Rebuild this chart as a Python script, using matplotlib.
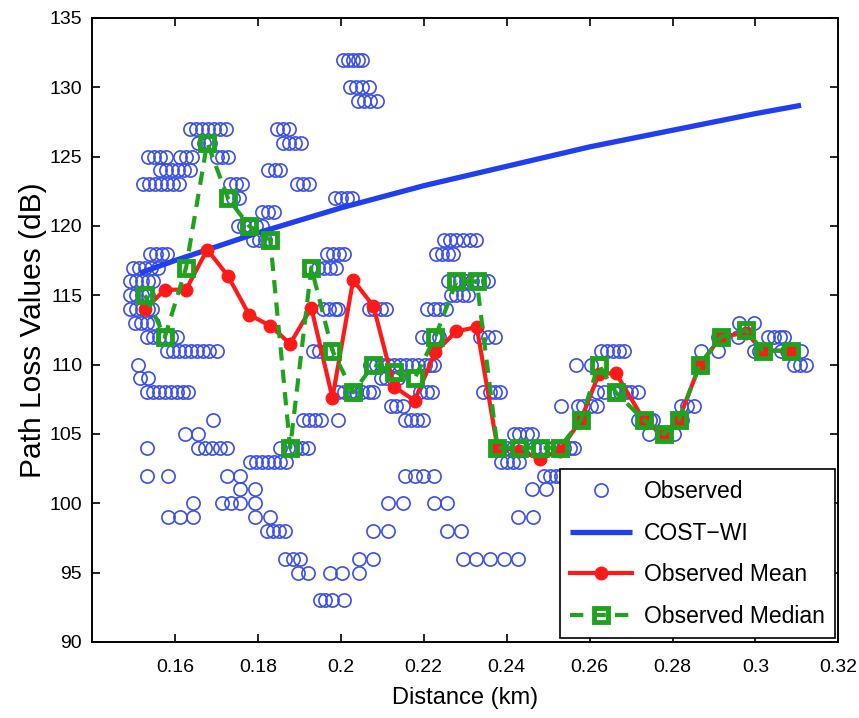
import matplotlib
matplotlib.use("Agg")
import matplotlib.pyplot as plt
import numpy as np

plt.rcParams['font.family'] = ['Liberation Sans', 'DejaVu Sans']

# ---- observed points, grouped by path loss level (dB) ----
obs_levels = {
    132: [0.2006, 0.2018, 0.2030, 0.2042, 0.2052],
    130: [0.2023, 0.2037, 0.2052, 0.2067],
    129: [0.2042, 0.2057, 0.2071, 0.2088],
    127: [0.1637, 0.1651, 0.1666, 0.1680, 0.1695, 0.1709, 0.1724, 0.1847, 0.1861, 0.1876],
    126: [0.1656, 0.1671, 0.1685, 0.1861, 0.1876, 0.1890, 0.1905],
    125: [0.1535, 0.1549, 0.1564, 0.1579, 0.1613, 0.1627, 0.1642, 0.1702, 0.1714, 0.1728],
    124: [0.1564, 0.1579, 0.1593, 0.1608, 0.1622, 0.1637, 0.1825, 0.1842, 0.1854],
    123: [0.1523, 0.1538, 0.1552, 0.1567, 0.1581, 0.1596, 0.1610, 0.1733, 0.1748, 0.1762,
          0.1895, 0.1910, 0.1924],
    122: [0.1726, 0.1741, 0.1755, 0.1987, 0.2001, 0.2016, 0.2028],
    121: [0.1811, 0.1825, 0.1840],
    120: [0.1753, 0.1767, 0.1782, 0.1796, 0.1811],
    119: [0.1789, 0.1803, 0.1818, 0.1832, 0.2248, 0.2263, 0.2277, 0.2296, 0.2311, 0.2325],
    118: [0.1540, 0.1555, 0.1569, 0.1581, 0.1968, 0.1982, 0.1997, 0.2009, 0.2229, 0.2243,
          0.2258, 0.2270],
    117: [0.1499, 0.1514, 0.1528, 0.1543, 0.1559, 0.1927, 0.1946, 0.1960, 0.1975, 0.1989],
    116: [0.1492, 0.1506, 0.1521, 0.1535, 0.1547, 0.2258, 0.2272, 0.2287, 0.2301, 0.2316,
          0.2330, 0.2344, 0.2354],
    115: [0.1492, 0.1506, 0.1521, 0.1535, 0.2265, 0.2279, 0.2294, 0.2306],
    114: [0.1492, 0.1506, 0.1521, 0.1535, 0.1545, 0.1958, 0.1972, 0.1987, 0.1994, 0.2067,
          0.2081, 0.2096, 0.2108, 0.2209, 0.2224, 0.2238, 0.2253],
    113: [0.1504, 0.1518, 0.1533, 0.1547, 0.2960, 0.2997],
    112: [0.1533, 0.1547, 0.1562, 0.1576, 0.1591, 0.1605, 0.2197, 0.2212, 0.2226, 0.2236,
          0.2337, 0.2354, 0.2373, 0.2910, 0.2958, 0.3030, 0.3044, 0.3059, 0.3069],
    111: [0.1581, 0.1596, 0.1610, 0.1625, 0.1639, 0.1654, 0.1668, 0.1683, 0.1702, 0.1934,
          0.1948, 0.1968, 0.2627, 0.2641, 0.2656, 0.2671, 0.2683, 0.2869, 0.2910, 0.2997,
          0.3009, 0.3021, 0.3062, 0.3076, 0.3091, 0.3110],
    110: [0.1511, 0.2071, 0.2086, 0.2100, 0.2115, 0.2129, 0.2144, 0.2158, 0.2173, 0.2187,
          0.2202, 0.2216, 0.2224, 0.2567, 0.2603, 0.3093, 0.3108, 0.3122],
    109: [0.1516, 0.1535, 0.2096, 0.2110, 0.2125, 0.2139],
    108: [0.1533, 0.1547, 0.1562, 0.1576, 0.1591, 0.1605, 0.1620, 0.1632, 0.1994, 0.2009,
          0.2023, 0.2038, 0.2052, 0.2067, 0.2079, 0.2192, 0.2207, 0.2221, 0.2344, 0.2359,
          0.2373, 0.2385, 0.2619, 0.2634, 0.2658, 0.2673, 0.2687, 0.2701, 0.2716],
    107: [0.2120, 0.2134, 0.2151, 0.2530, 0.2571, 0.2585, 0.2603, 0.2619, 0.2820, 0.2834,
          0.2853],
    106: [0.1692, 0.1909, 0.1923, 0.1938, 0.1952, 0.1994, 0.2156, 0.2170, 0.2185, 0.2199,
          0.2716, 0.2730, 0.2745, 0.2754, 0.2823],
    105: [0.1625, 0.1656, 0.2417, 0.2431, 0.2450, 0.2462, 0.2743, 0.2803],
    104: [0.1533, 0.1656, 0.1673, 0.1690, 0.1709, 0.1726, 0.1854, 0.1873, 0.1893, 0.1907,
          0.1922, 0.2386, 0.2400, 0.2415, 0.2429, 0.2465, 0.2480, 0.2494, 0.2509, 0.2523,
          0.2538, 0.2552, 0.2562],
    103: [0.1782, 0.1796, 0.1811, 0.1825, 0.1840, 0.1854, 0.1869, 0.2386, 0.2400, 0.2415,
          0.2429],
    102: [0.1533, 0.1584, 0.1726, 0.1757, 0.2156, 0.2178, 0.2199, 0.2224, 0.2489, 0.2504,
          0.2518, 0.2530, 0.2547],
    101: [0.1757, 0.1794, 0.2462, 0.2494],
    100: [0.1644, 0.1714, 0.1736, 0.1757, 0.1794, 0.2115, 0.2151, 0.2224, 0.2257],
    99: [0.1584, 0.1613, 0.1644, 0.1794, 0.1830, 0.2427, 0.2463],
    98: [0.1823, 0.1837, 0.1852, 0.1866, 0.2079, 0.2115, 0.2257, 0.2289],
    96: [0.1866, 0.1886, 0.1902, 0.2043, 0.2079, 0.2294, 0.2325, 0.2361, 0.2393, 0.2427],
    95: [0.1898, 0.1922, 0.1975, 0.2004, 0.2043],
    93: [0.1949, 0.1963, 0.1978, 0.2007],
}
obs_dist = [d for lvl, ds in obs_levels.items() for d in ds]
obs_loss = [lvl for lvl, ds in obs_levels.items() for d in ds]

# ---- COST-WI model curve ----
cost_dist = [0.1515, 0.16, 0.17, 0.18, 0.19, 0.20, 0.21, 0.22, 0.23, 0.24,
             0.25, 0.26, 0.27, 0.28, 0.29, 0.30, 0.311]
cost_loss = [116.6, 117.5, 118.5, 119.5, 120.4, 121.3, 122.1, 122.9, 123.6, 124.3,
             125.0, 125.7, 126.3, 126.9, 127.5, 128.1, 128.7]

# ---- mean / median ----
stat_dist = [0.1528, 0.1576, 0.1627, 0.1678, 0.1728, 0.1779, 0.1830, 0.1878,
             0.1929, 0.1980, 0.2030, 0.2079, 0.2129, 0.2178, 0.2228, 0.2279,
             0.2328, 0.2378, 0.2429, 0.2480, 0.2528, 0.2579, 0.2622, 0.2663,
             0.2731, 0.2779, 0.2815, 0.2866, 0.2917, 0.2977, 0.3018, 0.3086]
mean_loss = [114.0, 115.4, 115.4, 118.3, 116.4, 113.6, 112.8, 111.5,
             114.1, 107.6, 116.1, 114.2, 108.4, 107.4, 110.9, 112.4,
             112.7, 104.0, 103.8, 103.2, 103.8, 106.0, 109.3, 109.4,
             106.0, 105.0, 106.0, 110.0, 112.0, 112.3, 111.0, 111.0]
median_loss = [115, 112, 117, 126, 122, 120, 119, 104,
               117, 111, 108, 110, 109.5, 109, 112, 116,
               116, 104, 104, 104, 104, 106, 110, 108,
               106, 105, 106, 110, 112, 112.5, 111, 111]

xticks = [0.16, 0.18, 0.20, 0.22, 0.24, 0.26, 0.28, 0.30, 0.32]
xtick_labels = ['0.16', '0.18', '0.2', '0.22', '0.24', '0.26', '0.28', '0.3', '0.32']
yticks = [90, 95, 100, 105, 110, 115, 120, 125, 130, 135]

fig = plt.figure(figsize=(8.59, 7.18), dpi=100)
ax = fig.add_axes([0.107, 0.106, 0.869, 0.869])

ax.plot(obs_dist, obs_loss, linestyle='none', marker='o', markersize=9.5,
        markerfacecolor='none', markeredgecolor='#3b4fe6', markeredgewidth=1.2,
        label='Observed', zorder=2)
ax.plot(cost_dist, cost_loss, color='#1f3ff0', linewidth=3.8, label='COST\u2212WI',
        zorder=3, solid_capstyle='butt')
ax.plot(stat_dist, mean_loss, color='#ff1a1a', linewidth=3.0, marker='o',
        markersize=9, label='Observed Mean', zorder=4)
ax.plot(stat_dist, median_loss, color='#1fa31f', linewidth=3.0, linestyle=(0, (3.2, 2.2)),
        marker='s', markersize=10, markerfacecolor='none', markeredgewidth=3.5,
        label='Observed Median', zorder=5)

ax.set_xlim(0.14, 0.32)
ax.set_ylim(90, 135)
ax.set_xticks(xticks)
ax.set_xticklabels(xtick_labels)
ax.set_yticks(yticks)
ax.tick_params(direction='in', length=6, width=1.2, top=True, right=True,
               labelsize=14)
ax.tick_params(axis='x', pad=12)
ax.tick_params(axis='y', pad=7)
for s in ax.spines.values():
    s.set_linewidth(1.4)

ax.set_xlabel('Distance (km)', fontsize=17, labelpad=8)
ax.set_ylabel('Path Loss Values (dB)', fontsize=21.5, labelpad=2)

leg = ax.legend(loc='lower right', fontsize=16.5, handlelength=2.7, borderaxespad=0.15,
                fancybox=False, framealpha=1, edgecolor='black', labelspacing=0.82,
                handletextpad=0.5, borderpad=0.45)
leg.get_frame().set_linewidth(1.2)

fig.savefig('out.png', dpi=100)
